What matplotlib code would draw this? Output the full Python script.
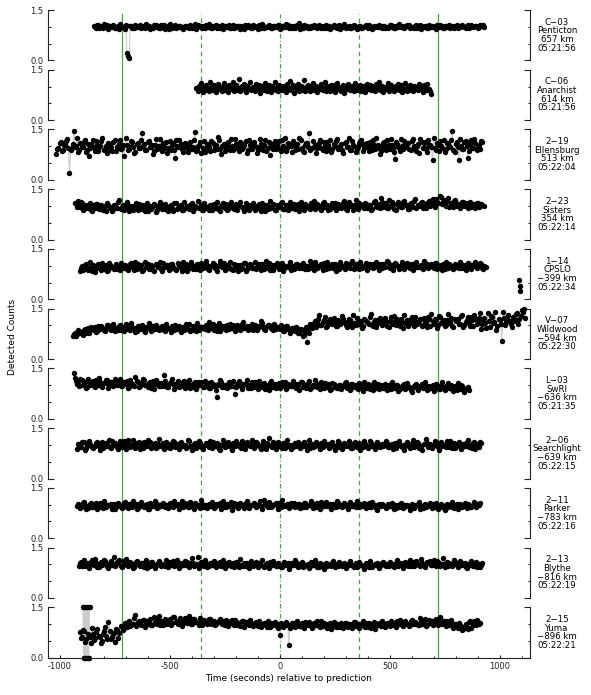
import numpy as np
import matplotlib
matplotlib.use("Agg")
import matplotlib.pyplot as plt
from matplotlib.lines import Line2D
from matplotlib.transforms import blended_transform_factory
from matplotlib.ticker import FixedLocator, MultipleLocator

plt.rcParams['font.family'] = 'DejaVu Sans'
plt.rcParams['axes.unicode_minus'] = False

# station info (top to bottom)
codes = ["C\u221203", "C\u221206", "2\u221219", "2\u221223", "1\u221214", "V\u221207",
         "L\u221203", "2\u221206", "2\u221211", "2\u221213", "2\u221215"]
names = ["Penticton", "Anarchist", "Ellensburg", "Sisters", "CPSLO", "Wildwood",
         "SwRI", "Searchlight", "Parker", "Blythe", "Yuma"]
dists = ["657", "614", "513", "354", "\u2212399", "\u2212594",
         "\u2212636", "\u2212639", "\u2212783", "\u2212816", "\u2212896"]
utc = ["05:21:56", "05:21:56", "05:22:04", "05:22:14", "05:22:34", "05:22:30",
       "05:21:35", "05:22:15", "05:22:16", "05:22:19", "05:22:21"]

# first sample time (s) and cadence (s); the "_b" lists are the samples
# falling half a step after the main ones
start_s = [-846, -380, -1017, -930, -911, -942, -937, -923, -925, -915, -910]
step_s = [10, 5, 10, 10, 10, 10, 10, 10, 10, 10, 10]

# normalised counts, in hundredths
penticton = [
    101, 97, 104, 99, 95, 102, 106, 98, 100, 103, 96, 101, 108, 99, 94, 22, 6, 103, 97, 100,
    98, 104, 101, 95, 99, 103, 100, 97, 105, 102, 96, 99, 104, 100, 93, 101, 98, 106, 99, 102,
    97, 100, 103, 95, 101, 99, 107, 98, 102, 96, 100, 104, 99, 97, 103, 101, 95, 100, 105, 98,
    102, 99, 96, 104, 100, 98, 103, 101, 94, 99, 106, 100, 97, 102, 99, 104, 96, 101, 98, 103,
    100, 95, 102, 99, 105, 97, 101, 98, 104, 100, 96, 103, 99, 110, 101, 97, 100, 102, 95, 99,
    104, 98, 101, 97, 103, 100, 96, 102, 99, 105, 101, 98, 94, 100, 103, 99, 101, 97, 104, 100,
    98, 102, 96, 101, 99, 105, 100, 97, 103, 99, 101, 95, 102, 100, 98, 104, 101, 97, 100, 103,
    99, 96, 101, 104, 98, 100, 102, 97, 105, 101, 99, 103, 96, 100, 98, 102, 104, 99, 101, 97,
    103, 100, 96, 101, 99, 104, 98, 102, 100, 97, 105, 99, 101, 103, 98, 100, 102, 106]
penticton_b = [
    99, 104, 96, 101, 107, 98, 93, 102, 105, 97, 100, 94, 103, 98, 106, 14, 101, 96, 104, 99,
    103, 96, 99, 107, 101, 94, 98, 105, 100, 96, 104, 99, 93, 102, 108, 97, 101, 95, 103, 100,
    94, 102, 99, 106, 97, 101, 92, 104, 98, 103, 95, 100, 107, 96, 99, 105, 101, 97, 93, 102,
    100, 106, 97, 95, 103, 101, 94, 99, 105, 98, 102, 96, 104, 100, 93, 101, 107, 97, 99, 104,
    96, 103, 99, 105, 94, 101, 98, 107, 95, 102, 100, 97, 104, 93, 99, 106, 101, 96, 103, 98,
    101, 95, 104, 99, 97, 106, 100, 94, 102, 98, 96, 104, 101, 107, 97, 100, 95, 103, 99, 93,
    103, 97, 100, 105, 96, 102, 94, 101, 99, 106, 98, 103, 97, 95, 104, 100, 96, 102, 107, 99,
    102, 98, 104, 95, 100, 97, 106, 101, 94, 99, 103, 96, 105, 101, 98, 93, 100, 104, 97, 102,
    99, 105, 101, 97, 103, 95, 100, 106, 98, 102, 96, 104, 99, 101, 97, 105, 103, 100]
anarchist = [
    95, 88, 103, 92, 110, 97, 84, 100, 91, 106, 98, 87, 112, 94, 101, 89, 105, 96, 83, 99,
    108, 93, 100, 86, 97, 111, 90, 102, 95, 85, 104, 98, 92, 114, 88, 99, 106, 91, 96, 122,
    87, 101, 94, 109, 98, 83, 103, 92, 97, 113, 89, 100, 95, 86, 107, 93, 99, 104, 81, 96,
    102, 90, 110, 95, 88, 99, 105, 92, 84, 101, 97, 112, 91, 98, 87, 106, 94, 100, 89, 103,
    96, 85, 108, 99, 93, 115, 90, 97, 104, 82, 100, 94, 109, 88, 98, 102, 91, 96, 120, 87,
    99, 105, 92, 86, 101, 95, 111, 89, 97, 103, 84, 100, 93, 107, 98, 90, 96, 113, 87, 102,
    94, 88, 106, 99, 91, 104, 85, 97, 110, 93, 100, 87, 98, 105, 82, 96, 101, 92, 108, 95,
    89, 103, 97, 86, 111, 94, 100, 91, 98, 106, 88, 95, 102, 84, 99, 109, 92, 97, 104, 90,
    101, 93, 87, 107, 96, 99, 112, 89, 94, 103, 85, 98, 100, 92, 110, 88, 97, 105, 91, 96,
    86, 102, 95, 108, 90, 99, 104, 83, 97, 93, 111, 88, 100, 96, 106, 91, 98, 87, 103, 94,
    99, 89, 107, 95, 92, 101, 85, 104, 97, 90, 109, 94, 88, 78]
anarchist_b = []
ellensburg = [
    78, 96, 112, 88, 104, 121, 20, 95, 145, 102, 84, 110, 97, 118, 90, 72, 106, 99, 115, 87,
    100, 124, 93, 81, 108, 97, 113, 86, 102, 119, 95, 70, 105, 92, 116, 99, 83, 110, 96, 140,
    107, 89, 117, 98, 76, 104, 93, 121, 85, 100, 112, 95, 88, 109, 64, 102, 118, 91, 97, 106,
    84, 113, 99, 142, 90, 105, 80, 116, 96, 103, 87, 111, 100, 92, 120, 78, 107, 95, 114, 89,
    101, 122, 94, 85, 109, 98, 117, 88, 104, 93, 112, 81, 99, 106, 90, 119, 96, 74, 108, 102,
    91, 115, 87, 100, 124, 95, 105, 83, 111, 98, 92, 118, 86, 103, 110, 139, 94, 99, 79, 107,
    120, 89, 101, 113, 96, 84, 108, 117, 93, 102, 88, 110, 99, 125, 90, 104, 82, 97, 115, 106,
    95, 111, 86, 100, 119, 92, 105, 76, 98, 114, 89, 103, 121, 94, 62, 107, 85, 100, 116, 97,
    109, 88, 123, 95, 101, 80, 112, 99, 93, 118, 104, 58, 96, 110, 87, 102, 120, 91, 106, 98,
    145, 84, 113, 60, 100, 92, 117, 65, 107, 96, 121, 89, 103, 115]
ellensburg_b = [
    92, 110, 85, 103, 117, 94, 88, 106, 99, 124, 90, 101, 113, 82, 108, 96, 119, 87, 104, 98,
    115, 89, 102, 111, 93, 85, 120, 97, 108, 91, 104, 126, 88, 99, 112, 80, 106, 95, 118, 101,
    90, 113, 97, 105, 86, 122, 100, 92, 109, 96, 81, 115, 103, 89, 118, 98, 107, 84, 111, 94,
    105, 91, 119, 87, 102, 112, 95, 83, 108, 99, 116, 90, 104, 127, 93, 101, 86, 110, 97, 121,
    88, 107, 99, 114, 92, 103, 80, 118, 96, 110, 101, 89, 123, 94, 105, 85, 112, 100, 91, 116,
    104, 93, 120, 97, 86, 109, 101, 115, 90, 106, 125, 95, 82, 111, 99, 88, 117, 103, 94, 110,
    96, 112, 85, 104, 118, 91, 100, 123, 94, 107, 80, 113, 98, 89, 116, 102, 92, 109, 120, 87,
    108, 99, 114, 90, 103, 126, 95, 86, 111, 101, 119, 93, 105, 84, 112, 97, 122, 91, 102, 110,
    93, 117, 100, 87, 108, 121, 96, 113, 84, 105, 99, 124, 90, 103, 116, 94, 82, 111, 100, 119,
    88, 106, 97, 123, 91, 112, 102, 85, 118, 95, 109, 100, 92, 113]
sisters = [
    108, 115, 96, 110, 92, 104, 99, 88, 102, 95, 107, 91, 100, 94, 86, 103, 97, 90, 101, 93,
    118, 96, 89, 104, 92, 99, 87, 101, 95, 106, 90, 98, 93, 84, 100, 96, 103, 89, 97, 105,
    92, 99, 86, 101, 95, 108, 91, 97, 103, 88, 94, 100, 96, 110, 90, 98, 93, 104, 87, 101,
    95, 102, 89, 106, 97, 92, 100, 109, 94, 87, 103, 98, 91, 105, 99, 113, 93, 96, 101, 88,
    104, 97, 91, 100, 95, 109, 86, 102, 98, 93, 106, 89, 101, 96, 111, 92, 99, 104, 94, 100,
    91, 107, 98, 103, 88, 101, 95, 110, 97, 92, 105, 100, 94, 112, 99, 89, 103, 96, 108, 93,
    101, 97, 114, 92, 106, 99, 88, 103, 95, 110, 100, 93, 107, 98, 104, 91, 116, 96, 102, 124,
    97, 108, 94, 101, 113, 92, 105, 99, 96, 111, 103, 90, 107, 100, 115, 95, 104, 109, 93, 102,
    110, 99, 118, 105, 121, 108, 127, 112, 103, 116, 98, 109, 114, 101, 107, 95, 111, 104, 100, 108,
    97, 106, 103, 110, 99, 104]
sisters_b = [
    98, 104, 112, 89, 101, 95, 110, 86, 97, 106, 92, 103, 88, 99, 108, 94, 85, 102, 96, 111,
    90, 103, 97, 112, 85, 101, 94, 108, 89, 99, 104, 86, 110, 96, 92, 107, 83, 100, 113, 91,
    106, 88, 98, 103, 84, 110, 95, 101, 87, 112, 99, 92, 105, 86, 101, 115, 94, 89, 108, 97,
    87, 104, 99, 93, 111, 85, 102, 96, 107, 90, 113, 95, 100, 88, 106, 97, 84, 109, 102, 94,
    110, 89, 101, 106, 86, 97, 103, 92, 114, 96, 88, 104, 99, 109, 91, 102, 87, 111, 95, 105,
    98, 86, 112, 93, 107, 99, 90, 104, 115, 95, 101, 88, 109, 97, 103, 92, 110, 100, 87, 106,
    94, 108, 99, 89, 112, 103, 96, 117, 91, 105, 98, 110, 94, 102, 88, 113, 100, 107, 95, 111,
    104, 93, 118, 99, 107, 88, 112, 101, 96, 115, 102, 92, 110, 97, 120, 103, 99, 113, 106, 95,
    115, 105, 122, 98, 112, 129, 107, 118, 101, 124, 110, 96, 117, 106, 102, 113, 99, 108, 94, 112,
    101, 95, 109, 98, 106, 100]
cpslo = [
    85, 98, 91, 104, 88, 95, 101, 82, 97, 93, 107, 90, 99, 86, 103, 94, 100, 89, 96, 108,
    92, 99, 87, 104, 95, 110, 91, 98, 102, 88, 96, 106, 93, 100, 85, 103, 97, 91, 109, 95,
    99, 90, 105, 94, 88, 101, 97, 110, 92, 84, 98, 103, 95, 89, 100, 107, 93, 96, 102, 87,
    98, 105, 92, 100, 114, 95, 88, 103, 97, 91, 106, 99, 85, 101, 94, 108, 90, 97, 102, 93,
    89, 100, 96, 104, 91, 98, 107, 93, 86, 101, 95, 99, 109, 92, 97, 103, 88, 100, 94, 106,
    99, 93, 102, 96, 90, 104, 98, 111, 92, 100, 95, 107, 89, 101, 97, 93, 105, 99, 91, 103,
    96, 108, 100, 94, 113, 98, 104, 90, 101, 97, 109, 93, 99, 106, 95, 102, 88, 100, 104, 97,
    110, 94, 101, 98, 105, 91, 99, 103, 96, 108, 93, 100, 97, 112, 95, 102, 89, 99, 104, 96,
    101, 93, 107, 98, 95, 104, 90, 100, 106, 97, 92, 103, 99, 110, 94, 101, 96, 105, 91, 98,
    102, 95, 108, 93, 100]
cpslo_b = [
    93, 87, 102, 96, 110, 83, 99, 92, 105, 88, 97, 101, 84, 108, 95, 90, 104, 98, 86, 100,
    103, 89, 95, 108, 86, 99, 104, 93, 85, 110, 97, 91, 102, 88, 106, 95, 112, 84, 98, 101,
    87, 104, 96, 90, 108, 95, 83, 100, 106, 93, 111, 89, 98, 104, 86, 96, 101, 114, 90, 99,
    107, 92, 85, 101, 96, 109, 90, 98, 112, 87, 95, 103, 99, 91, 108, 84, 100, 106, 94, 110,
    96, 105, 88, 99, 113, 92, 86, 102, 97, 109, 91, 104, 85, 100, 95, 111, 98, 89, 106, 93,
    103, 108, 91, 99, 115, 94, 87, 101, 96, 105, 88, 98, 112, 93, 106, 100, 85, 97, 110, 95,
    91, 102, 97, 109, 89, 104, 96, 112, 93, 99, 86, 106, 101, 94, 110, 97, 105, 92, 99, 113,
    95, 103, 88, 107, 99, 94, 111, 90, 101, 97, 105, 86, 109, 96, 100, 92, 114, 98, 93, 106,
    97, 108, 91, 102, 86, 99, 111, 94, 101, 89, 106, 96, 92, 104, 99, 87, 108, 95, 101, 110,
    92, 98, 104, 89, 97]
# three late CPSLO samples after the gap
cpslo_tail_t = [1086, 1089, 1092]
cpslo_tail = [57, 40, 24]
wildwood = [
    70, 78, 74, 83, 80, 87, 79, 91, 85, 88, 94, 82, 90, 97, 86, 93, 101, 89, 95, 84,
    92, 98, 87, 95, 103, 90, 86, 96, 92, 84, 99, 88, 94, 81, 91, 97, 87, 93, 100, 85,
    90, 96, 83, 92, 88, 98, 86, 94, 91, 80, 95, 89, 93, 103, 87, 92, 84, 97, 90, 94,
    88, 95, 110, 91, 86, 99, 93, 84, 97, 90, 102, 88, 94, 100, 91, 96, 86, 104, 93, 98,
    90, 95, 87, 101, 92, 98, 106, 89, 94, 100, 91, 86, 97, 93, 88, 95, 84, 99, 90, 87,
    93, 82, 91, 78, 86, 72, 95, 88, 104, 99, 112, 107, 130, 101, 115, 96, 109, 118, 103, 111,
    98, 113, 106, 120, 100, 110, 117, 95, 108, 122, 104, 112, 99, 116, 107, 125, 102, 111, 96, 118,
    109, 103, 121, 97, 114, 106, 128, 100, 112, 118, 93, 108, 115, 104, 124, 99, 111, 107, 119, 102,
    113, 96, 120, 135, 105, 117, 101, 126, 110, 98, 115, 108, 123, 94, 112, 119, 104, 130, 100, 116,
    108, 125, 97, 118, 111, 138, 103, 121, 92, 114, 128, 106, 140, 99, 117, 55, 122, 110, 131, 104,
    126, 112, 138, 118, 145, 150]
wildwood_b = [
    76, 68, 85, 79, 73, 90, 84, 77, 96, 86, 80, 99, 88, 92, 83, 100, 91, 87, 104, 92,
    85, 101, 94, 82, 97, 89, 108, 93, 80, 98, 91, 102, 86, 95, 106, 84, 99, 90, 96, 88,
    97, 86, 103, 91, 80, 95, 101, 88, 98, 93, 85, 104, 90, 82, 99, 94, 108, 86, 96, 91,
    100, 87, 94, 103, 97, 83, 108, 91, 99, 86, 95, 105, 92, 84, 101, 97, 89, 110, 94, 87,
    97, 103, 92, 86, 99, 112, 94, 85, 101, 97, 90, 105, 88, 96, 102, 82, 93, 98, 78, 91,
    86, 95, 79, 89, 70, 84, 52, 78, 92, 106, 95, 118, 102, 110, 124, 99, 114, 106, 121, 97,
    115, 104, 127, 109, 96, 118, 105, 131, 100, 113, 107, 93, 120, 110, 103, 134, 97, 115, 108, 123,
    101, 117, 109, 95, 126, 104, 113, 120, 99, 110, 132, 106, 97, 118, 109, 126, 103, 114, 98, 121,
    107, 125, 99, 112, 118, 92, 129, 106, 115, 101, 133, 109, 97, 120, 113, 104, 127, 95, 111, 124,
    98, 115, 132, 104, 122, 89, 117, 108, 136, 96, 125, 111, 85, 119, 104, 141, 100, 126, 113, 95,
    119, 133, 105, 128, 140, 122]
swri = [
    135, 112, 104, 118, 100, 109, 96, 113, 105, 99, 116, 102, 110, 94, 107, 114, 101, 108, 97, 111,
    104, 119, 99, 108, 113, 96, 106, 101, 125, 110, 98, 105, 115, 100, 107, 93, 111, 103, 109, 97,
    105, 130, 101, 96, 110, 104, 99, 107, 94, 102, 112, 98, 105, 91, 103, 108, 97, 101, 110, 95,
    100, 106, 93, 104, 98, 66, 102, 109, 96, 101, 94, 107, 99, 75, 103, 111, 97, 100, 105, 92,
    101, 108, 95, 99, 113, 97, 104, 90, 102, 107, 96, 100, 93, 106, 98, 103, 110, 94, 101, 97,
    105, 92, 100, 108, 96, 102, 99, 111, 94, 101, 97, 104, 90, 99, 106, 95, 100, 88, 103, 98,
    93, 101, 97, 106, 91, 99, 104, 95, 100, 89, 102, 96, 108, 93, 98, 101, 86, 97, 103, 94,
    99, 92, 96, 102, 88, 98, 95, 101, 90, 97, 104, 93, 99, 87, 96, 100, 91, 95, 103, 94,
    98, 89, 96, 101, 92, 97, 88, 102, 95, 99, 106, 93, 90, 98, 85, 96, 100, 91, 88, 94]
swri_b = [
    120, 105, 98, 114, 109, 93, 117, 102, 111, 96, 108, 121, 99, 106, 115, 92, 110, 104, 118, 100,
    112, 97, 109, 103, 91, 116, 105, 99, 113, 94, 107, 119, 101, 96, 110, 104, 90, 114, 98, 106,
    99, 111, 94, 106, 117, 90, 103, 112, 97, 108, 93, 101, 115, 95, 106, 88, 110, 100, 96, 113,
    105, 93, 110, 99, 87, 104, 114, 96, 102, 91, 108, 97, 112, 94, 100, 106, 89, 103, 115, 98,
    93, 104, 110, 89, 101, 96, 107, 99, 86, 112, 95, 103, 100, 91, 109, 97, 88, 105, 99, 113,
    96, 103, 87, 110, 98, 93, 106, 89, 101, 115, 94, 100, 108, 92, 97, 103, 85, 106, 96, 91,
    102, 88, 98, 109, 94, 85, 103, 99, 91, 107, 96, 82, 100, 105, 90, 97, 110, 93, 88, 101,
    91, 103, 86, 97, 108, 93, 100, 84, 96, 102, 89, 106, 94, 81, 99, 104, 87, 97, 92, 108,
    86, 99, 93, 82, 104, 96, 90, 108, 85, 97, 92, 100, 83, 94, 106, 88, 97, 80, 93, 86]
searchlight = [
    88, 102, 95, 108, 91, 99, 104, 93, 97, 110, 96, 101, 90, 106, 98, 94, 112, 100, 95, 103,
    107, 97, 101, 114, 93, 99, 105, 96, 110, 100, 92, 104, 98, 108, 95, 101, 90, 103, 97, 106,
    99, 94, 102, 96, 109, 100, 93, 105, 98, 101, 95, 111, 97, 103, 92, 100, 106, 96, 99, 104,
    94, 100, 108, 97, 102, 85, 99, 105, 96, 101, 93, 107, 98, 103, 100, 112, 95, 99, 104, 97,
    101, 96, 106, 93, 99, 103, 88, 100, 97, 109, 95, 102, 98, 91, 105, 100, 96, 101, 94, 107,
    99, 103, 95, 110, 97, 100, 92, 104, 98, 101, 96, 106, 93, 99, 102, 95, 108, 97, 100, 94,
    103, 98, 101, 96, 105, 92, 100, 97, 107, 99, 94, 102, 98, 111, 96, 101, 93, 104, 99, 97,
    100, 106, 95, 102, 98, 90, 104, 99, 101, 96, 109, 97, 103, 94, 100, 107, 98, 86, 102, 105,
    96, 101, 99, 108, 94, 103, 97, 100, 112, 95, 102, 98, 90, 104, 99, 101, 96, 107, 93, 100,
    105, 88, 102, 110]
searchlight_b = [
    104, 93, 110, 86, 100, 113, 97, 90, 106, 101, 85, 109, 95, 103, 114, 92, 99, 107, 88, 111,
    95, 112, 89, 102, 98, 115, 91, 106, 87, 103, 110, 96, 114, 90, 101, 107, 93, 118, 99, 88,
    109, 101, 91, 113, 95, 104, 87, 110, 99, 92, 116, 98, 86, 105, 101, 112, 94, 89, 107, 100,
    112, 90, 97, 106, 88, 101, 114, 93, 108, 99, 85, 104, 111, 96, 91, 103, 89, 108, 98, 115,
    92, 109, 100, 87, 113, 97, 105, 120, 94, 101, 89, 110, 96, 106, 92, 115, 99, 87, 103, 96,
    108, 91, 102, 97, 86, 114, 100, 93, 109, 104, 88, 96, 112, 101, 90, 106, 98, 85, 111, 102,
    89, 105, 96, 112, 91, 100, 108, 94, 86, 103, 113, 97, 90, 106, 101, 88, 110, 95, 104, 99,
    111, 93, 101, 89, 107, 98, 113, 95, 86, 104, 99, 92, 115, 100, 108, 91, 96, 103, 118, 94,
    104, 90, 112, 97, 86, 108, 101, 94, 99, 113, 91, 105, 97, 110, 87, 102, 96, 114, 100, 92,
    109, 98, 93, 106]
parker = [
    95, 100, 92, 104, 97, 89, 101, 94, 99, 106, 93, 98, 91, 102, 96, 100, 88, 103, 97, 105,
    99, 94, 108, 96, 101, 92, 98, 103, 90, 97, 100, 95, 102, 87, 99, 96, 104, 93, 98, 101,
    94, 100, 97, 106, 92, 99, 103, 96, 111, 98, 101, 93, 100, 97, 104, 95, 90, 102, 98, 96,
    103, 97, 100, 94, 99, 105, 96, 101, 93, 98, 108, 100, 95, 102, 97, 99, 91, 104, 96, 100,
    98, 102, 95, 100, 97, 114, 99, 93, 103, 96, 101, 98, 106, 94, 100, 97, 102, 95, 99, 104,
    96, 101, 99, 93, 105, 98, 100, 96, 103, 94, 101, 107, 97, 99, 95, 102, 98, 100, 93, 104,
    99, 95, 101, 97, 103, 96, 100, 92, 98, 102, 95, 99, 97, 104, 94, 100, 91, 98, 96, 101,
    97, 93, 100, 96, 102, 89, 98, 95, 101, 94, 99, 97, 92, 100, 95, 98, 87, 96, 99, 93,
    98, 95, 101, 92, 97, 94, 100, 96, 90, 99, 93, 98, 95, 101, 97, 92, 100, 96, 103, 94,
    99, 97, 102, 98]
parker_b = [
    102, 91, 97, 108, 88, 99, 105, 93, 100, 87, 104, 96, 110, 92, 98, 103, 94, 86, 101, 97,
    91, 106, 98, 89, 103, 110, 95, 86, 101, 107, 93, 99, 88, 104, 97, 112, 90, 100, 95, 106,
    100, 89, 104, 95, 110, 98, 87, 101, 94, 105, 92, 108, 97, 86, 103, 99, 113, 93, 100, 89,
    96, 107, 91, 103, 98, 88, 110, 94, 102, 97, 85, 104, 99, 91, 106, 95, 101, 112, 90, 98,
    105, 93, 99, 110, 88, 101, 96, 107, 92, 98, 104, 87, 100, 113, 95, 102, 90, 106, 97, 92,
    103, 89, 98, 106, 94, 100, 112, 91, 97, 104, 88, 101, 95, 108, 99, 86, 103, 93, 110, 96,
    92, 104, 99, 87, 108, 95, 101, 110, 93, 97, 105, 89, 100, 94, 107, 98, 85, 103, 96, 100,
    90, 101, 95, 106, 87, 99, 93, 104, 89, 100, 96, 84, 103, 91, 98, 107, 94, 89, 101, 95,
    104, 90, 96, 106, 88, 101, 94, 85, 103, 97, 108, 91, 99, 87, 102, 95, 104, 89, 98, 93,
    107, 92, 100, 105]
blythe = [
    96, 108, 101, 94, 105, 99, 112, 97, 103, 92, 107, 100, 110, 95, 104, 98, 121, 101, 106, 96,
    109, 102, 97, 104, 99, 93, 106, 100, 96, 103, 98, 90, 101, 107, 95, 99, 104, 97, 102, 94,
    100, 105, 97, 110, 99, 103, 95, 101, 98, 106, 92, 100, 104, 97, 123, 102, 99, 94, 101, 96,
    103, 98, 100, 94, 107, 99, 102, 96, 101, 95, 104, 97, 100, 91, 99, 103, 96, 101, 98, 94,
    101, 97, 104, 99, 93, 100, 96, 106, 98, 102, 95, 99, 91, 101, 97, 103, 94, 100, 98, 105,
    96, 100, 93, 98, 102, 95, 99, 97, 104, 92, 100, 96, 101, 94, 98, 103, 97, 99, 95, 100,
    98, 94, 101, 97, 99, 92, 103, 96, 100, 95, 98, 102, 93, 99, 97, 101, 95, 100, 104, 97,
    100, 96, 102, 98, 105, 94, 101, 99, 97, 103, 100, 96, 108, 99, 102, 95, 104, 98, 101, 106,
    97, 103, 100, 110, 96, 102, 99, 105, 94, 101, 98, 107, 100, 95, 103, 98, 92, 101, 99, 96,
    104, 93, 100, 97]
blythe_b = [
    104, 94, 112, 99, 90, 108, 101, 116, 93, 105, 97, 114, 102, 88, 110, 100, 95, 107, 113, 92,
    101, 115, 94, 108, 89, 103, 111, 97, 105, 92, 112, 100, 96, 106, 88, 102, 109, 94, 99, 113,
    93, 108, 100, 95, 114, 89, 105, 98, 111, 94, 103, 119, 96, 101, 90, 107, 99, 112, 93, 104,
    98, 110, 91, 105, 96, 113, 88, 103, 108, 97, 92, 106, 101, 115, 94, 99, 104, 89, 110, 100,
    107, 92, 99, 112, 96, 103, 88, 101, 110, 94, 105, 98, 91, 108, 100, 86, 104, 97, 113, 93,
    101, 108, 94, 99, 90, 106, 97, 112, 92, 103, 98, 87, 105, 101, 95, 110, 91, 100, 107, 96,
    103, 89, 98, 109, 95, 101, 93, 106, 99, 87, 104, 96, 111, 92, 100, 105, 90, 98, 108, 94,
    97, 108, 101, 93, 112, 99, 104, 90, 107, 96, 114, 102, 94, 109, 98, 117, 100, 92, 106, 111,
    99, 112, 95, 106, 101, 118, 93, 108, 103, 96, 114, 100, 91, 109, 97, 105, 88, 102, 110, 95,
    107, 99, 93, 104]
yuma = [
    75, 62, 80, 55, 68, 44, 72, 58, 85, 63, 50, 78, 66, 107, 57, 70, 48, 82, 74, 92,
    88, 97, 105, 94, 101, 128, 99, 108, 96, 112, 103, 100, 115, 98, 107, 101, 124, 110, 97, 113,
    105, 116, 102, 120, 109, 99, 113, 104, 118, 107, 111, 101, 115, 106, 98, 112, 103, 109, 100, 114,
    104, 110, 99, 107, 113, 101, 96, 108, 103, 111, 98, 105, 102, 94, 109, 100, 106, 97, 103, 99,
    107, 95, 101, 97, 104, 92, 99, 103, 96, 100, 88, 67, 97, 93, 101, 38, 96, 104, 92, 99,
    95, 102, 89, 98, 105, 93, 100, 96, 108, 91, 99, 103, 94, 101, 86, 97, 104, 99, 92, 100,
    96, 103, 90, 99, 94, 107, 98, 88, 101, 95, 104, 92, 100, 97, 85, 99, 103, 94, 101, 96,
    100, 93, 105, 97, 110, 99, 102, 95, 108, 101, 96, 112, 99, 104, 97, 106, 100, 115, 98, 103,
    109, 101, 115, 97, 112, 104, 99, 108, 96, 103, 93, 100, 87, 97, 84, 95, 90, 105, 88,
    110, 98, 106, 102]
yuma_b = [
    58, 82, 47, 70, 61, 88, 52, 76, 66, 45, 71, 92, 55, 80, 63, 74, 86, 60, 95, 83,
    102, 91, 110, 99, 118, 95, 106, 100, 113, 92, 109, 103, 97, 120, 105, 111, 96, 108, 115, 101,
    112, 98, 121, 106, 101, 117, 95, 110, 104, 123, 99, 114, 108, 102, 119, 96, 111, 105, 116, 100,
    110, 97, 106, 115, 99, 104, 112, 94, 108, 101, 113, 96, 103, 109, 92, 105, 99, 111, 95, 102,
    98, 108, 92, 103, 96, 110, 90, 101, 105, 94, 99, 103, 91, 106, 97, 89, 102, 95, 108, 93,
    101, 90, 107, 96, 99, 88, 104, 97, 93, 110, 95, 100, 87, 103, 98, 106, 91, 97, 102, 89,
    104, 95, 99, 87, 106, 93, 101, 97, 110, 90, 98, 103, 89, 107, 94, 100, 96, 108, 91, 102,
    96, 108, 99, 92, 104, 113, 97, 106, 101, 94, 110, 103, 107, 96, 118, 100, 109, 95, 112, 105,
    98, 113, 106, 120, 101, 110, 95, 104, 111, 89, 99, 94, 104, 82, 92, 100, 86, 110, 97,
    104, 112, 99]
# Yuma detector glitch: samples flipping between the two rails
yuma_glitch_t0, yuma_glitch_dt = -896, 3
yuma_glitch = [150, 0, 150, 0, 150, 0, 150, 0, 150, 0, 150]

series = [penticton, anarchist, ellensburg, sisters, cpslo, wildwood,
          swri, searchlight, parker, blythe, yuma]
series_b = [penticton_b, anarchist_b, ellensburg_b, sisters_b, cpslo_b, wildwood_b,
            swri_b, searchlight_b, parker_b, blythe_b, yuma_b]

event_lines = [(-720, '-'), (-360, '--'), (0, '-.'), (360, '--'), (720, '-')]

W, H = 591, 695
fig = plt.figure(figsize=(W / 100, H / 100), dpi=100)

left_px, right_px = 47.7, 530
top_px, pitch_px, panel_px = 10, 59.73, 50.4
ms = 3.9


def draw_curve(ax, t, v):
    ax.plot(t, v, color='#cccccc', lw=0.8, zorder=1, clip_on=False)
    ax.plot(t, v, 'o', color='black', ms=ms, mew=0, zorder=2, clip_on=False)


axes = []
for i in range(len(series)):
    y0 = top_px + i * pitch_px
    ax = fig.add_axes([left_px / W, 1 - (y0 + panel_px) / H,
                       (right_px - left_px) / W, panel_px / H])
    ax.patch.set_visible(False)
    axes.append(ax)

    ta = start_s[i] + step_s[i] * np.arange(len(series[i]))
    tb = start_s[i] + step_s[i] / 2 + step_s[i] * np.arange(len(series_b[i]))
    t = np.concatenate([ta, tb])
    v = np.concatenate([series[i], series_b[i]]) / 100.0
    order = np.argsort(t, kind='stable')
    draw_curve(ax, t[order], v[order])

    if names[i] == "CPSLO":
        draw_curve(ax, cpslo_tail_t, np.array(cpslo_tail) / 100.0)
    if names[i] == "Yuma":
        gt = yuma_glitch_t0 + yuma_glitch_dt * np.arange(len(yuma_glitch))
        draw_curve(ax, gt, np.array(yuma_glitch) / 100.0)

    ax.set_xlim(-1056, 1136)
    ax.set_ylim(0, 1.5)
    ax.yaxis.set_major_locator(FixedLocator([0, 1.5]))
    ax.yaxis.set_minor_locator(FixedLocator([0.5, 1.0]))
    ax.set_yticklabels(['0.0', '1.5'])
    ax.tick_params(axis='y', which='both', direction='in', left=True, right=True,
                   width=0.8, labelsize=6, pad=3, colors='#222222')
    ax.tick_params(axis='y', which='major', length=4)
    ax.tick_params(axis='y', which='minor', length=1.8)
    ax.spines['top'].set_visible(False)
    for s in ['left', 'right', 'bottom']:
        ax.spines[s].set_linewidth(0.8)
        ax.spines[s].set_color('#222222')

    ax.text(1.056, 0.5, f"{codes[i]}\n{names[i]}\n{dists[i]} km\n{utc[i]}",
            transform=ax.transAxes, ha='center', va='center', fontsize=6.2,
            linespacing=0.95)

    if i < len(series) - 1:
        ax.spines['bottom'].set_visible(False)
        ax.tick_params(axis='x', which='both', bottom=False, labelbottom=False)
    else:
        ax.xaxis.set_major_locator(MultipleLocator(500))
        ax.xaxis.set_minor_locator(MultipleLocator(100))
        ax.tick_params(axis='x', which='both', direction='in', width=0.8,
                       labelsize=6, pad=3, colors='#222222')
        ax.tick_params(axis='x', which='major', length=2.5)
        ax.tick_params(axis='x', which='minor', length=1.6)
        ax.set_xlabel('Time (seconds) relative to prediction', fontsize=6.5, labelpad=2)

# event markers running through all panels
bottom_ax = axes[-1]
trans = blended_transform_factory(bottom_ax.transData, fig.transFigure)
y_bot = 1 - (top_px + 10 * pitch_px + panel_px) / H
y_top = 1 - 14 / H
for x, ls in event_lines:
    ln = Line2D([x, x], [y_bot, y_top], transform=trans, color='#4f9f4f',
                lw=0.9, zorder=-1)
    if ls == '--':
        ln.set_dashes([3.6, 3.0])
    elif ls == '-.':
        ln.set_dashes([3.6, 1.8, 0.8, 1.8])
    fig.add_artist(ln)

fig.text(13 / W, 1 - 337 / H, 'Detected Counts', rotation=90,
         ha='center', va='center', fontsize=6.5)

fig.savefig('out.png', dpi=100)
